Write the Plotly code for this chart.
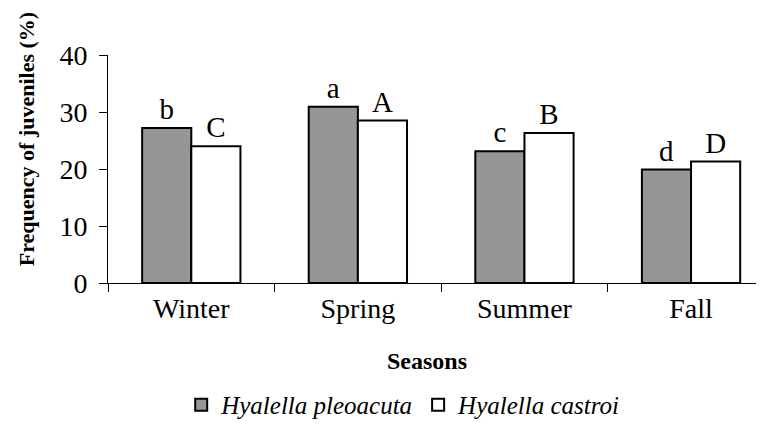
import plotly.graph_objects as go

seasons = ["Winter", "Spring", "Summer", "Fall"]
pleoacuta = [27.2, 30.9, 23.1, 19.9]
castroi = [24.0, 28.5, 26.3, 21.3]
pleoacuta_letters = ["b", "a", "c", "d"]
castroi_letters = ["C", "A", "B", "D"]

SERIF = "Liberation Serif"

fig = go.Figure()
fig.add_trace(go.Bar(
    x=seasons, y=pleoacuta, name="Hyalella pleoacuta",
    text=pleoacuta_letters, textposition="outside", cliponaxis=False,
    textfont=dict(family=SERIF, size=29, color="black"),
    marker=dict(color="#969696", line=dict(color="black", width=2)),
))
fig.add_trace(go.Bar(
    x=seasons, y=castroi, name="Hyalella castroi",
    text=castroi_letters, textposition="outside", cliponaxis=False,
    textfont=dict(family=SERIF, size=29, color="black"),
    marker=dict(color="white", line=dict(color="black", width=2)),
))

# axis titles as annotations so they can sit off-centre like the original
fig.add_annotation(
    text="<b>Frequency of juveniles (%)</b>", textangle=-90,
    xref="paper", yref="paper", x=-0.123, y=0.632,
    xanchor="center", yanchor="middle", showarrow=False,
    font=dict(family=SERIF, size=22, color="black"),
)
fig.add_annotation(
    text="<b>Seasons</b>",
    xref="paper", yref="paper", x=0.486, y=-0.342,
    xanchor="center", yanchor="middle", showarrow=False,
    font=dict(family=SERIF, size=24, color="black"),
)

# page has an 8px body margin, so the figure is shrunk by that much
fig.update_layout(
    template="none",
    width=756, height=428,
    margin=dict(l=100, r=0, t=47, b=153),
    paper_bgcolor="white", plot_bgcolor="white",
    barmode="group", bargap=0.41, bargroupgap=0,
    font=dict(family=SERIF, size=28, color="black"),
    showlegend=True,
    legend=dict(
        orientation="h", x=0.45, xanchor="center", y=-0.535, yanchor="middle",
        font=dict(family=SERIF, size=25, color="black", style="italic"),
        itemwidth=30, tracegroupgap=0,
    ),
    xaxis=dict(
        range=[-0.5, 3.438],
        showline=True, linecolor="black", linewidth=1,
        ticks="outside", tickson="boundaries", ticklen=8, tickcolor="black",
        tickfont=dict(family=SERIF, size=28, color="black"),
        showgrid=False, zeroline=False,
    ),
    yaxis=dict(
        range=[0, 40], dtick=10,
        showline=True, linecolor="black", linewidth=1,
        ticks="outside", ticklen=8, tickcolor="black", ticklabelstandoff=6,
        tickfont=dict(family=SERIF, size=28, color="black"),
        showgrid=False, zeroline=False,
    ),
)

fig.write_html("out.html")
